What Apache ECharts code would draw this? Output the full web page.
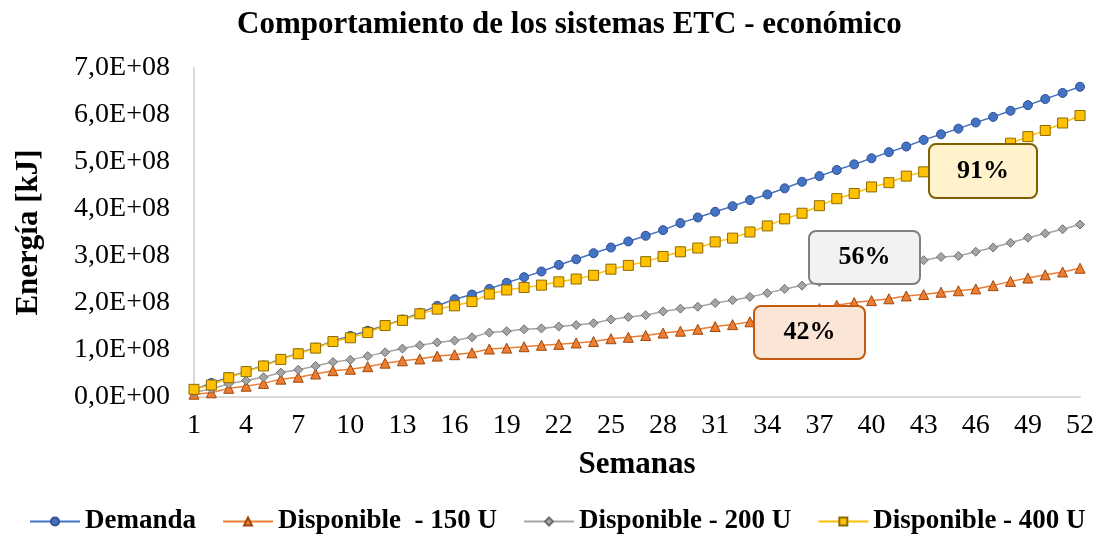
<!DOCTYPE html>
<html>
<head>
<meta charset="utf-8">
<script src="https://cdn.jsdelivr.net/npm/echarts@6/dist/echarts.min.js"></script>
<style>
  html, body { margin: 0; padding: 0; background: #ffffff; }
  #chart { width: 1098px; height: 537px; }
</style>
</head>
<body>
<div id="chart"></div>
<script>
// semanas 1..52
const weeks = Array.from({ length: 52 }, (_, i) => String(i + 1))

// valores en unidades de 1E+08 kJ
const demanda = [
  0.15, 0.30, 0.42, 0.55, 0.67, 0.81, 0.93, 1.05, 1.19, 1.30,
  1.41, 1.52, 1.65, 1.79, 1.94, 2.08, 2.18, 2.30, 2.43, 2.55,
  2.67, 2.81, 2.93, 3.06, 3.18, 3.31, 3.43, 3.55, 3.70, 3.82,
  3.94, 4.06, 4.19, 4.31, 4.44, 4.58, 4.70, 4.83, 4.95, 5.08,
  5.21, 5.33, 5.47, 5.59, 5.71, 5.84, 5.96, 6.09, 6.21, 6.34,
  6.47, 6.60
]
const disp150 = [
  0.06, 0.09, 0.185, 0.23, 0.29, 0.38, 0.42, 0.49, 0.56, 0.59,
  0.645, 0.72, 0.77, 0.81, 0.87, 0.90, 0.94, 1.02, 1.04, 1.07,
  1.10, 1.12, 1.15, 1.18, 1.24, 1.27, 1.31, 1.36, 1.40, 1.44,
  1.50, 1.54, 1.60, 1.67, 1.74, 1.81, 1.88, 1.95, 2.01, 2.05,
  2.09, 2.15, 2.18, 2.23, 2.26, 2.30, 2.37, 2.46, 2.53, 2.60,
  2.66, 2.74
]
const disp200 = [
  0.10, 0.17, 0.28, 0.35, 0.42, 0.52, 0.58, 0.66, 0.745, 0.79,
  0.87, 0.95, 1.03, 1.10, 1.16, 1.20, 1.27, 1.37, 1.40, 1.44,
  1.46, 1.50, 1.53, 1.57, 1.65, 1.70, 1.74, 1.82, 1.88, 1.92,
  2.00, 2.06, 2.13, 2.21, 2.30, 2.37, 2.45, 2.53, 2.60, 2.68,
  2.76, 2.84, 2.91, 2.98, 3.00, 3.09, 3.18, 3.28, 3.39, 3.48,
  3.57, 3.67
]
const disp400 = [
  0.163, 0.255, 0.41, 0.54, 0.66, 0.80, 0.92, 1.04, 1.18, 1.26,
  1.37, 1.52, 1.63, 1.77, 1.87, 1.94, 2.03, 2.19, 2.277, 2.33,
  2.38, 2.45, 2.51, 2.59, 2.72, 2.80, 2.88, 2.99, 3.09, 3.17,
  3.30, 3.38, 3.51, 3.64, 3.79, 3.91, 4.07, 4.22, 4.33, 4.47,
  4.56, 4.70, 4.79, 4.90, 5.02, 5.14, 5.27, 5.40, 5.54, 5.67,
  5.83, 5.99
]
const seriesNames = ['Demanda', 'Disponible  - 150 U', 'Disponible - 200 U', 'Disponible - 400 U']
const pctLabels = ['91%', '56%', '42%']

const toKJ = arr => arr.map(v => Math.round(v * 1e8))

const serif = '"Liberation Serif", "Times New Roman", serif'

const chart = echarts.init(document.getElementById('chart'))

// estilo de cada serie: color de línea, relleno y borde del marcador
const styles = [
  { line: '#4472C4', fill: '#4472C4', border: '#2F528F', symbol: 'circle', size: 9 },
  { line: '#ED7D31', fill: '#ED7D31', border: '#9E480E', symbol: 'triangle', size: 10 },
  { line: '#A5A5A5', fill: '#A5A5A5', border: '#6E6E6E', symbol: 'diamond', size: 9 },
  { line: '#FFC000', fill: '#FFC000', border: '#8C6A00', symbol: 'rect', size: 10 },
]
const allData = [demanda, disp150, disp200, disp400]

// cuadros de porcentaje
const boxes = [
  { text: pctLabels[0], x: 928, y: 143, w: 108, h: 54, fill: '#FFF2CC', stroke: '#7F6000' },
  { text: pctLabels[1], x: 808, y: 230, w: 111, h: 53, fill: '#F2F2F2', stroke: '#7F7F7F' },
  { text: pctLabels[2], x: 753, y: 305, w: 111, h: 53, fill: '#FBE5D6', stroke: '#C55A11' },
]

const option = {
  backgroundColor: '#ffffff',
  animation: false,
  title: {
    text: 'Comportamiento de los sistemas ETC - económico',
    left: 232,
    top: 4,
    textStyle: { fontFamily: serif, fontSize: 31, fontWeight: 'bold', color: '#000' },
  },
  legend: {
    top: 503,
    left: 24,
    width: 1074,
    itemWidth: 50,
    itemHeight: 10,
    itemGap: 26,
    textStyle: { fontFamily: serif, fontSize: 27, fontWeight: 'bold', color: '#000' },
    data: seriesNames,
  },
  grid: { left: 194, right: 18, top: 68, bottom: 140, containLabel: false },
  xAxis: {
    type: 'category',
    boundaryGap: false,
    data: weeks,
    name: 'Semanas',
    nameLocation: 'middle',
    nameGap: 52,
    nameTextStyle: { fontFamily: serif, fontSize: 31, fontWeight: 'bold', color: '#000' },
    axisLine: { lineStyle: { color: '#D9D9D9', width: 2 } },
    axisTick: { show: false },
    axisLabel: {
      interval: 2,
      margin: 15,
      fontFamily: serif,
      fontSize: 28,
      color: '#000',
    },
  },
  yAxis: {
    type: 'value',
    min: 0,
    max: 7e8,
    interval: 1e8,
    name: 'Energía [kJ]',
    nameLocation: 'middle',
    nameGap: 150,
    nameTextStyle: { fontFamily: serif, fontSize: 31, fontWeight: 'bold', color: '#000' },
    axisLine: { show: true, lineStyle: { color: '#D9D9D9', width: 2 } },
    axisTick: { show: false },
    splitLine: { show: false },
    axisLabel: {
      margin: 24,
      fontFamily: serif,
      fontSize: 28,
      color: '#000',
      formatter: v => {
        if (v === 0) return '0,0E+00'
        const exp = Math.floor(Math.log10(v))
        const m = (v / Math.pow(10, exp)).toFixed(1).replace('.', ',')
        return m + 'E+' + String(exp).padStart(2, '0')
      },
    },
  },
  series: allData.map((d, i) => ({
    name: seriesNames[i],
    type: 'line',
    data: toKJ(d),
    symbol: styles[i].symbol,
    symbolSize: styles[i].size,
    showAllSymbol: true,
    lineStyle: { color: styles[i].line, width: 1.5 },
    itemStyle: { color: styles[i].fill, borderColor: styles[i].border, borderWidth: 1 },
    z: 2 + i,
  })),
  graphic: boxes.map(b => ({
    type: 'group',
    left: b.x,
    top: b.y,
    z: 100,
    children: [
      {
        type: 'rect',
        z: 100,
        shape: { x: 0, y: 0, width: b.w, height: b.h, r: 7 },
        style: { fill: b.fill, stroke: b.stroke, lineWidth: 2 },
      },
      {
        type: 'text',
        z: 101,
        x: b.w / 2,
        y: b.h / 2,
        style: {
          text: b.text,
          align: 'center',
          verticalAlign: 'middle',
          font: 'bold 26px ' + serif,
          fill: '#000',
        },
      },
    ],
  })),
}

chart.setOption(option)
window.addEventListener('resize', () => chart.resize())
</script>
</body>
</html>
